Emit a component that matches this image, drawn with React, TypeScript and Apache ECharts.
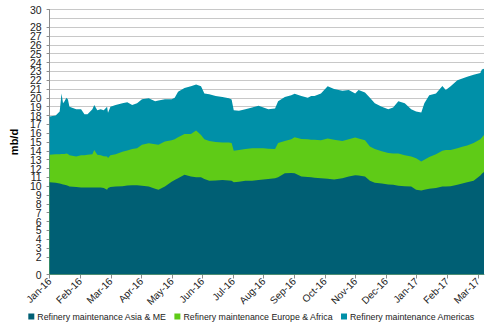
import React, { useEffect, useRef } from "react";
import * as echarts from "echarts";

const monthLabels = [
  "Jan-16", "Feb-16", "Mar-16", "Apr-16", "May-16", "Jun-16", "Jul-16", "Aug-16",
  "Sep-16", "Oct-16", "Nov-16", "Dec-16", "Jan-17", "Feb-17", "Mar-17",
];

// position of each observation, in months since Jan-16
const monthPos = [
  0.0, 0.2, 0.33, 0.39, 0.44, 0.49, 0.55, 0.6, 0.65, 0.87,
  1.03, 1.14, 1.24, 1.4, 1.46, 1.56, 1.67, 1.77, 1.88, 1.91,
  1.99, 2.16, 2.38, 2.54, 2.7, 2.86, 3.02, 3.24, 3.45, 3.56,
  3.77, 3.99, 4.09, 4.2, 4.41, 4.62, 4.79, 4.95, 5.06, 5.22,
  5.43, 5.65, 5.86, 5.95, 6.02, 6.19, 6.4, 6.62, 6.83, 6.99,
  7.15, 7.37, 7.47, 7.69, 7.9, 8.01, 8.23, 8.44, 8.55, 8.66,
  8.87, 9.09, 9.3, 9.57, 9.78, 9.99, 10.1, 10.31, 10.47, 10.63,
  10.86, 11.07, 11.23, 11.4, 11.61, 11.82, 11.98, 12.15, 12.25, 12.41,
  12.63, 12.84, 12.95, 13.11, 13.33, 13.49, 13.65, 13.86, 14.08, 14.13,
  14.2,
];

const asiaME = [
  10.45, 10.4, 10.3, 10.25, 10.2, 10.15, 10.1, 10.05, 9.96, 9.9,
  9.85, 9.85, 9.85, 9.85, 9.85, 9.85, 9.85, 9.8, 9.6, 9.8,
  9.9, 9.96, 10.0, 10.07, 10.1, 10.1, 10.05, 9.95, 9.7, 9.6,
  9.96, 10.5, 10.7, 10.9, 11.3, 11.1, 11.0, 11.0, 10.8, 10.6,
  10.65, 10.7, 10.65, 10.6, 10.45, 10.5, 10.6, 10.6, 10.7, 10.75,
  10.8, 10.9, 11.0, 11.45, 11.5, 11.45, 11.1, 11.05, 11.0, 10.95,
  10.9, 10.85, 10.75, 10.9, 11.1, 11.25, 11.2, 11.1, 10.6, 10.4,
  10.3, 10.2, 10.15, 10.05, 10.0, 9.95, 9.6, 9.5, 9.6, 9.7,
  9.8, 9.95, 9.96, 10.0, 10.15, 10.3, 10.45, 10.6, 11.2, 11.4,
  11.6,
];

const europeAfrica = [
  3.1, 3.2, 3.3, 3.4, 3.45, 3.5, 3.6, 3.6, 3.54, 3.46,
  3.65, 3.65, 3.7, 3.75, 4.25, 3.7, 3.65, 3.6, 3.75, 3.4,
  3.6, 3.64, 3.9, 3.98, 4.1, 4.2, 4.65, 4.9, 5.05, 5.1,
  5.09, 4.7, 4.6, 4.65, 4.6, 4.8, 5.3, 4.8, 4.5, 4.5,
  4.35, 4.25, 4.3, 4.3, 3.55, 3.6, 3.6, 3.7, 3.6, 3.55,
  3.45, 3.3, 3.9, 3.65, 3.8, 4.1, 4.25, 4.25, 4.25, 4.3,
  4.3, 4.55, 4.5, 4.2, 4.2, 4.25, 4.2, 4.1, 3.9, 3.8,
  3.65, 3.55, 3.55, 3.65, 3.5, 3.4, 3.55, 3.3, 3.4, 3.6,
  3.8, 4.05, 4.14, 4.1, 4.15, 4.15, 4.15, 4.3, 4.1, 4.1,
  4.2,
];

const americas = [
  4.35, 4.4, 4.85, 6.85, 5.75, 5.95, 6.3, 6.15, 5.5, 5.34,
  5.2, 4.65, 4.6, 5.1, 5.1, 5.05, 5.2, 5.2, 5.65, 5.1,
  5.5, 5.6, 5.5, 5.45, 5.0, 5.1, 5.15, 5.11, 4.85, 5.0,
  4.8, 4.65, 4.7, 5.15, 5.2, 5.4, 5.2, 5.5, 5.2, 5.3,
  5.2, 5.15, 5.01, 4.9, 4.6, 4.45, 4.5, 4.6, 4.8, 4.6,
  4.45, 4.6, 4.7, 5.0, 5.0, 4.9, 4.85, 4.7, 4.95, 4.95,
  5.3, 5.9, 5.75, 5.7, 5.6, 5.0, 5.5, 5.4, 5.5, 5.2,
  5.05, 4.95, 5.2, 5.9, 5.9, 5.35, 5.3, 5.55, 6.4, 7.0,
  6.9, 7.35, 6.8, 7.2, 7.7, 7.75, 7.8, 7.7, 7.5, 7.7,
  7.5,
];

const seriesNames = [
  "Refinery maintenance Asia & ME",
  "Refinery maintenance Europe & Africa",
  "Refinery maintenance Americas",
];
const seriesColors = ["#005F74", "#5FCB17", "#0090A8"];

const FONT = "'Liberation Sans', Arial, sans-serif";

export default function App() {
  const ref = useRef<HTMLDivElement>(null);
  useEffect(() => {
    if (!ref.current) return;
    const chart = echarts.init(ref.current, undefined, { renderer: "svg" });
    const values = [asiaME, europeAfrica, americas];
    // cumulative (stacked) tops, built from the series values
    const cumulative = values.map((_, k) =>
      monthPos.map((m, i) => {
        let s = 0;
        for (let j = 0; j <= k; j++) s += values[j][i];
        return [m, Math.round(s * 100) / 100];
      })
    );
    chart.setOption({
      animation: false,
      grid: { left: 43, right: 19, top: 9.5, bottom: 54.5, containLabel: false },
      legend: {
        top: 307,
        left: "center",
        icon: "rect",
        itemWidth: 6,
        itemHeight: 6,
        itemGap: 8,
        textStyle: { fontFamily: FONT, fontSize: 8.8, color: "#222", padding: [0, 0, 0, -2] },
        data: seriesNames,
      },
      xAxis: {
        type: "value",
        min: 0,
        max: 14.2,
        interval: 1,
        splitLine: { show: false },
        axisLine: { show: true, lineStyle: { color: "#8C8C8C" } },
        axisTick: { show: true, length: 4, lineStyle: { color: "#8C8C8C" } },
        axisLabel: {
          rotate: 45,
          margin: 5,
          fontFamily: FONT,
          fontSize: 10,
          color: "#222",
          showMaxLabel: false,
          formatter: (v: number) => {
            const i = Math.round(v);
            return Math.abs(v - i) < 1e-6 && monthLabels[i] ? monthLabels[i] : "";
          },
        },
      },
      yAxis: {
        type: "value",
        min: 0,
        max: 30,
        interval: 1,
        name: "mb/d",
        nameLocation: "middle",
        nameGap: 24,
        nameTextStyle: { fontFamily: FONT, fontSize: 11, fontWeight: "bold", color: "#000" },
        axisLine: { show: true, lineStyle: { color: "#8C8C8C" } },
        axisTick: { show: true, length: 3, lineStyle: { color: "#8C8C8C" } },
        splitLine: { show: true, lineStyle: { color: "#C8C8C8", width: 1 } },
        axisLabel: {
          fontFamily: FONT,
          fontSize: 10.5,
          color: "#222",
          margin: 8,
          lineHeight: 8,
          showMaxLabel: true,
          showMinLabel: true,
        },
      },
      series: seriesNames.map((name, k) => ({
        name,
        type: "line",
        symbol: "none",
        lineStyle: { width: 0 },
        areaStyle: { color: seriesColors[k], opacity: 1 },
        itemStyle: { color: seriesColors[k] },
        data: cumulative[k],
        z: 10 - k,
      })),
    });
    return () => chart.dispose();
  }, []);
  return (
    <div
      ref={ref}
      style={{ position: "absolute", left: 0, top: 0, width: 503, height: 329 }}
    />
  );
}
